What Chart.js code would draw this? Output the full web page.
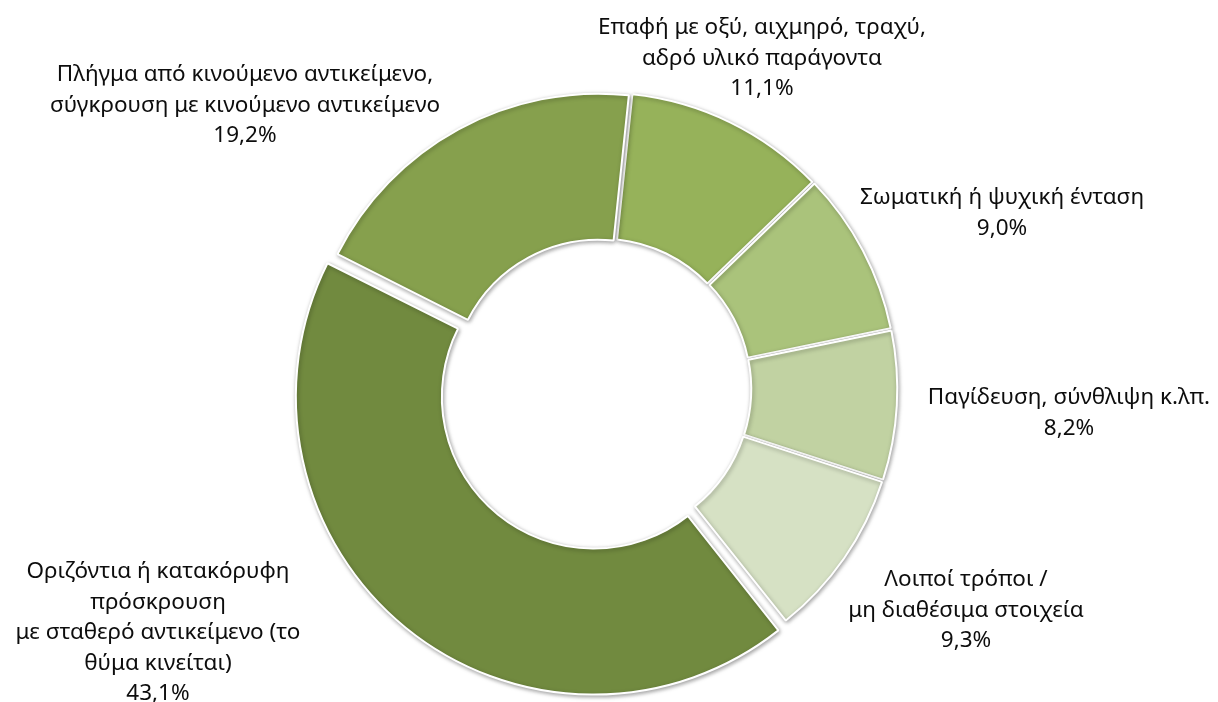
<!DOCTYPE html>
<html>
<head>
<meta charset="utf-8">
<script src="https://cdn.jsdelivr.net/npm/chart.js@4.4.1/dist/chart.umd.min.js"></script>
<style>
  html, body { margin: 0; padding: 0; background: #ffffff; }
  #wrap { width: 1218px; height: 702px; position: relative; }
</style>
</head>
<body>
<div id="wrap"><canvas id="c"></canvas></div>
<script>
// ---- data ----
const categories = [
  ['Επαφή με οξύ, αιχμηρό, τραχύ,', 'αδρό υλικό παράγοντα'],
  ['Σωματική ή ψυχική ένταση'],
  ['Παγίδευση, σύνθλιψη κ.λπ.'],
  ['Λοιποί τρόποι /', 'μη διαθέσιμα στοιχεία'],
  ['Οριζόντια ή κατακόρυφη', 'πρόσκρουση', 'με σταθερό αντικείμενο (το', 'θύμα κινείται)'],
  ['Πλήγμα από κινούμενο αντικείμενο,', 'σύγκρουση με κινούμενο αντικείμενο']
];
const shares = [11.1, 9.0, 8.2, 9.3, 43.1, 19.2];
const sliceColors = ['#96B25A', '#AAC37B', '#C1D2A2', '#D6E1C4', '#718A3F', '#86A04D'];

// ---- styling / layout (not data) ----
const sliceOffsets = [14, 14, 14, 14, 40, 14];
// label first-line position relative to the doughnut centre
const labelAnchors = [
  [162, -361], [402, -191], [469, 9], [366, 191], [-442, 183], [-355, -314]
];
const LINE_H = 30.5;

const fmt = v => v.toFixed(1).replace('.', ',') + '%';

const shadowPlugin = {
  id: 'sliceShadow',
  beforeDatasetsDraw(chart) {
    const ctx = chart.ctx;
    ctx.save();
    ctx.shadowColor = 'rgba(0,0,0,0.35)';
    ctx.shadowBlur = 4;
    ctx.shadowOffsetX = 1;
    ctx.shadowOffsetY = 1.5;
  },
  afterDatasetsDraw(chart) {
    chart.ctx.restore();
  }
};

const labelPlugin = {
  id: 'outerLabels',
  afterDraw(chart) {
    const ctx = chart.ctx;
    const meta = chart.getDatasetMeta(0);
    const arc0 = meta.data[0];
    const cx = arc0.x, cy = arc0.y;
    const family = '"Noto Sans", "DejaVu Sans", sans-serif';
    ctx.save();
    ctx.font = '20px ' + family;
    const ref = ctx.measureText('σύγκρουση με κινούμενο αντικείμενο').width;
    const size = 20 * 390 / ref;
    ctx.font = size.toFixed(2) + 'px ' + family;
    ctx.fillStyle = '#0d0d0d';
    ctx.textAlign = 'center';
    ctx.textBaseline = 'middle';
    categories.forEach((lines, i) => {
      const all = lines.concat([fmt(shares[i])]);
      const [dx, dy] = labelAnchors[i];
      all.forEach((t, k) => {
        ctx.fillText(t, cx + dx, cy + dy + k * LINE_H);
      });
    });
    ctx.restore();
  }
};

new Chart(document.getElementById('c'), {
  type: 'doughnut',
  data: {
    labels: categories.map(l => l.join(' ')),
    datasets: [{
      data: shares,
      backgroundColor: sliceColors,
      borderColor: '#ffffff',
      borderWidth: 2,
      offset: sliceOffsets,
      hoverOffset: 0
    }]
  },
  options: {
    responsive: true,
    maintainAspectRatio: false,
    animation: false,
    rotation: 6,
    cutout: '50%',
    radius: 292,
    layout: { padding: { left: 0, right: 18, top: 76, bottom: 0 } },
    plugins: {
      legend: { display: false },
      tooltip: { enabled: false }
    },
    events: []
  },
  plugins: [shadowPlugin, labelPlugin]
});
</script>
</body>
</html>
